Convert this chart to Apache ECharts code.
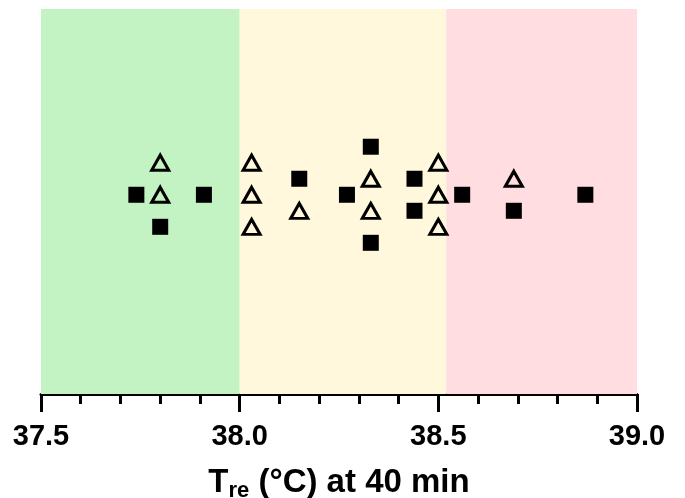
<!DOCTYPE html>
<html>
<head>
<meta charset="utf-8">
<script src="https://cdn.jsdelivr.net/npm/echarts@6/dist/echarts.min.js"></script>
<style>
  html, body { margin: 0; padding: 0; background: #fff; }
  #main { width: 685px; height: 498px; }
</style>
</head>
<body>
<div id="main"></div>
<script>
// Tre values at 40 min, with a row offset so overlapping points stack vertically
var squareX = [37.74, 37.80, 37.91, 38.15, 38.27, 38.33, 38.33, 38.44, 38.44, 38.56, 38.69, 38.87];
var squareY = [0, -2, 0, 1, 0, 3, -3, 1, -1, 0, -1, 0];
var triangleX = [37.80, 37.80, 38.03, 38.03, 38.03, 38.15, 38.33, 38.33, 38.50, 38.50, 38.50, 38.69];
var triangleY = [2, 0, 2, 0, -2, -1, 1, -1, 2, 0, -2, 1];
// background zones
var zoneEdges = [37.5, 38.0, 38.52, 39.0];
var zoneColors = ['#c3f2c3', '#fff8dc', '#ffdde0'];

function pairs(xs, ys) {
    var out = [];
    for (var i = 0; i < xs.length; i++) out.push([xs[i], ys[i]]);
    return out;
}

var zones = [];
for (var i = 0; i < zoneColors.length; i++) {
    zones.push([
        { xAxis: zoneEdges[i], itemStyle: { color: zoneColors[i] } },
        { xAxis: zoneEdges[i + 1] }
    ]);
}

var chart = echarts.init(document.getElementById('main'));
chart.setOption({
    animation: false,
    grid: { left: 41, right: 48, top: 9, bottom: 104, containLabel: false, outerBoundsMode: 'none' },
    xAxis: {
        type: 'value',
        min: 37.5,
        max: 39.0,
        interval: 0.5,
        name: '{a|T}{sub|re}{a| (°C) at 40 min}',
        nameLocation: 'middle',
        nameGap: 70,
        nameTextStyle: {
            rich: {
                a: { fontFamily: 'Liberation Sans', fontWeight: 'bold', fontSize: 33, color: '#000', lineHeight: 38 },
                sub: { fontFamily: 'Liberation Sans', fontWeight: 'bold', fontSize: 22, color: '#000', lineHeight: 38, padding: [16, 0, 0, 0] }
            }
        },
        axisLine: { onZero: false, lineStyle: { color: '#000', width: 3 } },
        axisTick: { length: 18, lineStyle: { color: '#000', width: 3 } },
        minorTick: { show: true, splitNumber: 5, length: 10, lineStyle: { color: '#000', width: 3 } },
        splitLine: { show: false },
        axisLabel: {
            margin: 28,
            fontFamily: 'Liberation Sans',
            fontWeight: 'bold',
            fontSize: 29,
            color: '#000',
            formatter: function (v) { return v.toFixed(1); }
        }
    },
    yAxis: {
        type: 'value',
        min: -12.44,
        max: 11.6,
        show: false
    },
    series: [
        {
            type: 'scatter',
            symbol: 'rect',
            symbolSize: 16,
            itemStyle: { color: '#000', opacity: 1 },
            data: pairs(squareX, squareY),
            z: 3,
            markArea: { silent: true, data: zones }
        },
        {
            type: 'scatter',
            symbol: 'triangle',
            symbolSize: [17, 15],
            itemStyle: { color: 'rgba(0,0,0,0)', borderColor: '#000', borderWidth: 3, opacity: 1 },
            data: pairs(triangleX, triangleY),
            z: 4
        }
    ]
});
</script>
</body>
</html>
